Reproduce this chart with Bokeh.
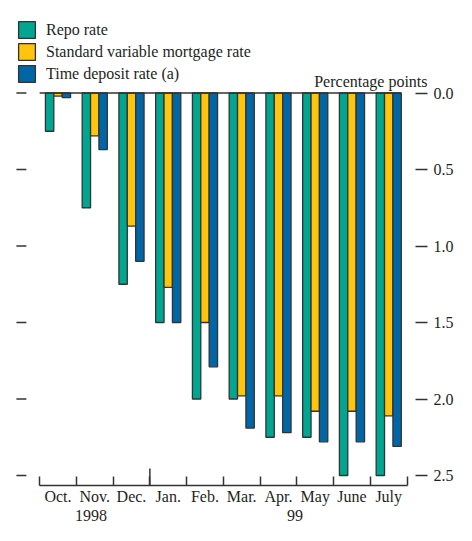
from bokeh.plotting import figure
from bokeh.models import (Range1d, FixedTicker, PrintfTickFormatter, LinearAxis,
                          Legend, LegendItem, Label, ColumnDataSource)
from bokeh.embed import file_html
from bokeh.resources import INLINE

# ---------------- data ----------------
months = ["Oct.", "Nov.", "Dec.", "Jan.", "Feb.", "Mar.", "Apr.", "May", "June", "July"]
repo = [0.25, 0.75, 1.25, 1.50, 2.00, 2.00, 2.25, 2.25, 2.50, 2.50]
mortgage = [0.02, 0.28, 0.87, 1.27, 1.50, 1.98, 1.98, 2.08, 2.08, 2.11]
time_deposit = [0.03, 0.37, 1.10, 1.50, 1.79, 2.19, 2.22, 2.28, 2.28, 2.31]
series_names = ["Repo rate", "Standard variable mortgage rate", "Time deposit rate (a)"]
y_ticks = [0.0, 0.5, 1.0, 1.5, 2.0, 2.5]
years = ["1998", "99"]
year_pos = [1.4, 6.95]
year_break = 3
unit_label = "Percentage points"

# ---------------- geometry / style ----------------
FONT = "Liberation Serif"
TXT = "#231f20"
EDGE = "#333333"
colors = ["#00a68f", "#ffc40c", "#0066a6"]
W, H = 456, 525
RIGHT_PANEL = 27
FRAME_W = W - RIGHT_PANEL
X0_PX, X10_PX = 39.3, 408.5                 # month boundaries 0 and 10
MPX = (X10_PX - X0_PX) / len(months)        # pixels per month
ZERO_PX, AXIS_PX = 92.5, 485                # zero line and x-axis line
PX = (AXIS_PX - 10 - ZERO_PX) / 2.5         # pixels per percentage point

x_start = -X0_PX / MPX
x_end = x_start + FRAME_W / MPX
y_top = -ZERO_PX / PX
y_bottom = (H - ZERO_PX) / PX
y_axis = (AXIS_PX - ZERO_PX) / PX

def xpx(px):
    return x_start + px / MPX

def ypx(px):
    return (px - ZERO_PX) / PX

p = figure(width=W, height=H, output_backend="svg", toolbar_location=None,
           x_range=Range1d(x_start, x_end), y_range=Range1d(y_bottom, y_top),
           min_border_left=0, min_border_right=RIGHT_PANEL, min_border_top=0,
           min_border_bottom=0, x_axis_location=None, y_axis_location=None)
p.outline_line_color = None
p.xgrid.visible = False
p.ygrid.visible = False

centers = [i + 0.5 for i in range(len(months))]
bw = 0.228
src = ColumnDataSource(dict(
    x_r=[c - bw for c in centers], x_m=centers, x_t=[c + bw for c in centers],
    repo=repo, mortgage=mortgage, time_deposit=time_deposit))

r1 = p.vbar(x="x_r", top="repo", bottom=0, width=bw, source=src,
            fill_color=colors[0], line_color=EDGE, line_width=1.3)
r2 = p.vbar(x="x_m", top="mortgage", bottom=0, width=bw, source=src,
            fill_color=colors[1], line_color=EDGE, line_width=1.3)
r3 = p.vbar(x="x_t", top="time_deposit", bottom=0, width=bw, source=src,
            fill_color=colors[2], line_color=EDGE, line_width=1.3)

# zero line
p.segment(x0=[0], y0=[0], x1=[len(months) - 0.16], y1=[0], line_color=EDGE, line_width=1.6)
# taller year separator tick
p.segment(x0=[year_break], y0=[y_axis], x1=[year_break], y1=[y_axis - 17 / PX],
          line_color=EDGE, line_width=1.5)
# left-hand tick marks (detached from the bars)
p.segment(x0=[xpx(16)] * len(y_ticks), y0=y_ticks, x1=[xpx(26)] * len(y_ticks), y1=y_ticks,
          line_color=EDGE, line_width=1.5)

# bottom axis: month labels, boundary ticks
xb = LinearAxis(ticker=FixedTicker(ticks=centers, minor_ticks=list(range(len(months) + 1))),
                major_label_overrides={c: m for c, m in zip(centers, months)},
                bounds=(0, len(months)), fixed_location=y_axis)
xb.major_tick_in = 0
xb.major_tick_out = 0
xb.minor_tick_in = 9
xb.minor_tick_out = 0
xb.minor_tick_line_color = EDGE
xb.minor_tick_line_width = 1.5
xb.axis_line_color = EDGE
xb.axis_line_width = 1.5
xb.major_label_standoff = 2
xb.major_label_text_font = FONT
xb.major_label_text_font_size = "16px"
xb.major_label_text_color = TXT
p.add_layout(xb, "below")

# second bottom axis: year labels
xy = LinearAxis(ticker=FixedTicker(ticks=year_pos, minor_ticks=[]),
                major_label_overrides={xp: yt for xp, yt in zip(year_pos, years)},
                fixed_location=ypx(503))
xy.axis_line_color = None
xy.major_tick_line_color = None
xy.minor_tick_line_color = None
xy.major_label_standoff = 0
xy.major_label_text_font = FONT
xy.major_label_text_font_size = "16px"
xy.major_label_text_color = TXT
p.add_layout(xy, "below")

# right axis: ticks + labels
yr = LinearAxis(ticker=FixedTicker(ticks=y_ticks), formatter=PrintfTickFormatter(format="%.1f"))
yr.axis_line_color = None
yr.major_tick_in = 12
yr.major_tick_out = 0
yr.major_tick_line_color = EDGE
yr.major_tick_line_width = 1.5
yr.minor_tick_line_color = None
yr.major_label_standoff = 6
yr.major_label_text_font = FONT
yr.major_label_text_font_size = "16px"
yr.major_label_text_color = TXT
p.add_layout(yr, "right")

# unit label
p.add_layout(Label(x=x_end, y=ypx(81), text=unit_label, text_align="right",
                   text_baseline="alphabetic", text_font=FONT, text_font_size="16px",
                   text_color=TXT))

legend = Legend(items=[LegendItem(label=series_names[0], renderers=[r1]),
                       LegendItem(label=series_names[1], renderers=[r2]),
                       LegendItem(label=series_names[2], renderers=[r3])],
                location=(16, H - 84))
legend.glyph_width = 21
legend.glyph_height = 21
legend.label_height = 21
legend.spacing = 1
legend.padding = 0
legend.margin = 0
legend.label_standoff = 9
legend.border_line_color = None
legend.background_fill_alpha = 0
legend.label_text_font = FONT
legend.label_text_font_size = "16px"
legend.label_text_color = TXT
p.add_layout(legend)

open("out.html", "w").write(file_html(p, INLINE))
